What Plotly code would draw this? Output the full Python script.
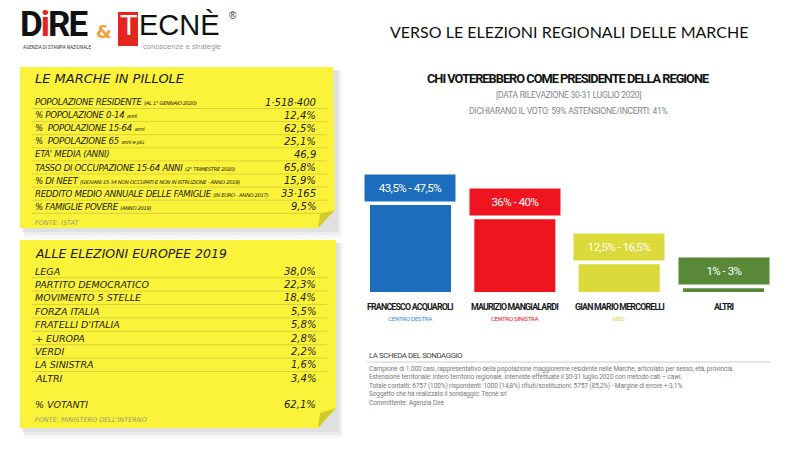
import plotly.graph_objects as go

# ---------------- DATA ----------------
candidates = ["FRANCESCO ACQUAROLI", "MAURIZIO MANGIALARDI", "GIAN MARIO MERCORELLI", "ALTRI"]
coalitions = ["CENTRO DESTRA", "CENTRO SINISTRA", "M5S", ""]
range_low = [43.5, 36, 12.5, 1]
range_high = [47.5, 40, 16.5, 3]
range_labels = ["43,5% - 47,5%", "36% - 40%", "12,5% - 16,5%", "1% - 3%"]

pillole_labels = ["POPOLAZIONE RESIDENTE", "% POPOLAZIONE 0-14", "%  POPOLAZIONE 15-64", "%  POPOLAZIONE 65",
                  "ETA' MEDIA (ANNI)", "TASSO DI OCCUPAZIONE 15-64 ANNI", "% DI NEET",
                  "REDDITO MEDIO ANNUALE DELLE FAMIGLIE", "% FAMIGLIE POVERE"]
pillole_notes = ["(AL 1° GENNAIO 2020)", "anni", "anni", "anni e più", "", "(2° TRIMESTRE 2020)",
                 "(GIOVANI 15-34 NON OCCUPATI E NON IN ISTRUZIONE - ANNO 2019)", "(IN EURO - ANNO 2017)", "(ANNO 2019)"]
pillole_values = ["1·518·400", "12,4%", "62,5%", "25,1%", "46,9", "65,8%", "15,9%", "33·165", "9,5%"]

parties = ["LEGA", "PARTITO DEMOCRATICO", "MOVIMENTO 5 STELLE", "FORZA ITALIA", "FRATELLI D'ITALIA",
           "+ EUROPA", "VERDI", "LA SINISTRA", "ALTRI"]
party_values = [38.0, 22.3, 18.4, 5.5, 5.8, 2.8, 2.2, 1.6, 3.4]
votanti = 62.1

scheda_lines = [
    "Campione di 1.000 casi, rappresentativo della popolazione maggiorenne residente nelle Marche, articolato per sesso, età, provincia.",
    "Estensione territoriale: intero territorio regionale. Interviste effettuate il 30-31 luglio 2020 con metodo cati – cawi.",
    "Totale contatti: 6757 (100%) rispondenti: 1000 (14,8%) rifiuti/sostituzioni: 5757 (85,2%) - Margine di errore +-3,1%",
    "Soggetto che ha realizzato il sondaggio: Tecnè srl",
    "Committente: Agenzia Dire",
]

# ---------------- STYLE ----------------
bar_colors = ["#1C6DBB", "#EE1520", "#DCDA3A", "#588838"]
sub_colors = ["#3B8BD2", "#EE1520", "#DCDA3A", "#588838"]
NARROW = "Roboto, sans-serif"
HAND = "DejaVu Sans, sans-serif"
YEL = "#FBF23A"

def ls(s, px):
    return "<span style='letter-spacing:%spx'>%s</span>" % (px, s)

mid = [(a + b) / 2 for a, b in zip(range_low, range_high)]
xs = list(range(len(candidates)))

fig = go.Figure()
fig.add_trace(go.Bar(x=xs, y=mid, marker=dict(color=bar_colors, line=dict(width=0)),
                     hoverinfo="skip", xaxis="x", yaxis="y"))
fig.add_trace(go.Scatter(x=[0], y=[0], mode="markers", marker=dict(opacity=0),
                         xaxis="x2", yaxis="y2", hoverinfo="skip"))

ann = []
shapes = []

def t(x, y, s, size, color="#222", family=NARROW, xanchor="left", yanchor="middle"):
    ann.append(dict(x=x, y=y, xref="x2", yref="y2", text=s, showarrow=False,
                    font=dict(size=size, color=color, family=family),
                    xanchor=xanchor, yanchor=yanchor, align=xanchor if xanchor != "center" else "center"))

for i in xs:
    ann.append(dict(x=i, y=mid[i], xref="x", yref="y", text=ls(range_labels[i], -0.5), showarrow=False,
                    font=dict(size=11.5, color="white", family=NARROW),
                    bgcolor=bar_colors[i], width=90, height=26, borderpad=0,
                    xanchor="center", yanchor="bottom", yshift=3))
    ann.append(dict(x=i, y=0, xref="x", yref="y", text="<b>" + ls(candidates[i], -0.8) + "</b>", showarrow=False,
                    font=dict(size=8.8, color="#1a1a1a", family=NARROW),
                    xanchor="center", yanchor="middle", yshift=-15))
    if coalitions[i]:
        ann.append(dict(x=i, y=0, xref="x", yref="y", text=ls(coalitions[i], -0.3), showarrow=False,
                        font=dict(size=6.2, color=sub_colors[i], family=NARROW),
                        xanchor="center", yanchor="middle", yshift=-27))

# ---- sticky notes ----
for k, a in enumerate([0.05, 0.04, 0.03]):
    shapes.append(dict(type="rect", xref="x2", yref="y2", x0=22 + k, x1=338 + 2 * k, y0=70, y1=232 + 3 * k,
                       fillcolor="rgba(0,0,0,%s)" % a, line=dict(width=0), layer="below"))
    shapes.append(dict(type="rect", xref="x2", yref="y2", x0=22 + k, x1=339 + 2 * k, y0=243, y1=432 + 3 * k,
                       fillcolor="rgba(0,0,0,%s)" % a, line=dict(width=0), layer="below"))
shapes.append(dict(type="path", xref="x2", yref="y2",
                   path="M 20 67 L 333 67 L 335 210 L 318 228 L 20 228 Z",
                   fillcolor=YEL, line=dict(width=0), layer="below"))
shapes.append(dict(type="path", xref="x2", yref="y2",
                   path="M 335 210 L 320 214 L 318 228 Z",
                   fillcolor="#D3CB2E", line=dict(width=0), layer="below"))
shapes.append(dict(type="path", xref="x2", yref="y2",
                   path="M 20 240 L 336 240 L 336 408 L 318 428 L 20 428 Z",
                   fillcolor=YEL, line=dict(width=0), layer="below"))
shapes.append(dict(type="path", xref="x2", yref="y2",
                   path="M 336 408 L 320 413 L 318 428 Z",
                   fillcolor="#D3CB2E", line=dict(width=0), layer="below"))

t(33, 78, "<i>LE MARCHE IN PILLOLE</i>", 13, "#1a1a1a", HAND)
y0, dy = 102, 13.1
for k, (lab, note, val) in enumerate(zip(pillole_labels, pillole_notes, pillole_values)):
    yy = y0 + k * dy
    s = "<i><span style='letter-spacing:-0.3px'>" + lab
    if note:
        s += " <span style='font-size:5.2px'>" + note + "</span>"
    s += "</span></i>"
    t(33, yy, s, 8.6, "#222210", HAND)
    t(318, yy, "<i>" + val + "</i>", 10, "#222210", HAND, xanchor="right")
    shapes.append(dict(type="line", xref="x2", yref="y2", x0=32, x1=327, y0=yy + 6.5, y1=yy + 6.5,
                       line=dict(color="rgba(160,150,60,0.35)", width=1)))
t(33, 223, "<i>FONTE: ISTAT</i>", 6.5, "#9a9a70", HAND)

t(33, 253, "<i>ALLE ELEZIONI EUROPEE 2019</i>", 12.5, "#1a1a1a", HAND)
y0, dy = 271, 13.4
for k, (p, v) in enumerate(zip(parties, party_values)):
    yy = y0 + k * dy
    t(33, yy, "<i>" + p + "</i>", 9.5, "#222210", HAND)
    t(318, yy, "<i>" + f"{v:.1f}".replace(".", ",") + "%</i>", 10, "#222210", HAND, xanchor="right")
    if k < len(parties) - 1:
        shapes.append(dict(type="line", xref="x2", yref="y2", x0=32, x1=327, y0=yy + 6.7, y1=yy + 6.7,
                           line=dict(color="rgba(160,150,60,0.35)", width=1)))
t(33, 404, "<i>% VOTANTI</i>", 9.5, "#222210", HAND)
t(318, 404, "<i>" + f"{votanti:.1f}".replace(".", ",") + "%</i>", 10, "#222210", HAND, xanchor="right")
t(33, 420, "<i>FONTE: MINISTERO DELL'INTERNO</i>", 6.5, "#9a9a70", HAND)

# ---- logos ----
t(18, 24, "<b>" + ls("D<span style='fill:#E52520'>i</span>RE", -2) + "</b>", 35, "#111111", NARROW)
t(21, 47.5, "AGENZIA DI STAMPA NAZIONALE", 4.5, "#333", NARROW)
t(94, 31, "<b>&</b>", 18, "#EFA23A", "DejaVu Sans")
shapes.append(dict(type="rect", xref="x2", yref="y2", x0=118, x1=138, y0=12, y1=46,
                   fillcolor="#E52520", line=dict(width=0)))
t(118, 25, "T", 29, "white", "Liberation Sans")
t(137, 25, "ECNÈ", 29, "#111", "Liberation Sans")
t(227, 15, "®", 10, "#333", "Liberation Sans")
t(141, 46.5, "conoscenze e strategie", 7.6, "#999", "Liberation Sans")

# ---- headers ----
t(569, 31, "VERSO LE ELEZIONI REGIONALI DELLE MARCHE", 16, "#111", "Lato, Open Sans, sans-serif", xanchor="center")
t(568, 78, "<b>" + ls("CHI VOTEREBBERO COME PRESIDENTE DELLA REGIONE", -1.0) + "</b>", 12.8, "#111", NARROW, xanchor="center")
t(568, 95, ls("[DATA RILEVAZIONE 30-31 LUGLIO 2020]", -0.3), 8.6, "#888", NARROW, xanchor="center")
t(568, 111, ls("DICHIARANO IL VOTO: 59% ASTENSIONE/INCERTI: 41%", -0.3), 8.6, "#888", NARROW, xanchor="center")

# ---- scheda ----
t(367, 355, ls("LA SCHEDA DEL SONDAGGIO", -0.4), 7.8, "#444", NARROW)
shapes.append(dict(type="line", xref="x2", yref="y2", x0=367, x1=770, y0=362, y1=362,
                   line=dict(color="#cccccc", width=1)))
for k, line in enumerate(scheda_lines):
    t(367, 369 + k * 8.4, ls(line, -0.1), 6.5, "#777", NARROW)

fig.update_layout(
    width=801, height=450, margin=dict(l=0, r=0, t=0, b=0),
    paper_bgcolor="white", plot_bgcolor="rgba(0,0,0,0)",
    showlegend=False, bargap=0.223,
    xaxis=dict(domain=[358.3 / 801, 775.7 / 801], range=[-0.5, 3.5], visible=False, fixedrange=True, anchor="y"),
    yaxis=dict(domain=[1 - 292 / 450, 1 - 160 / 450], range=[0, 69], visible=False, fixedrange=True, anchor="x"),
    xaxis2=dict(domain=[0, 1], range=[0, 801], visible=False, anchor="y2", fixedrange=True),
    yaxis2=dict(domain=[0, 1], range=[450, 0], visible=False, anchor="x2", fixedrange=True),
    annotations=ann, shapes=shapes,
)
fig.write_html("out.html", config={"displayModeBar": False},
               post_script="document.body.style.margin='0';")
